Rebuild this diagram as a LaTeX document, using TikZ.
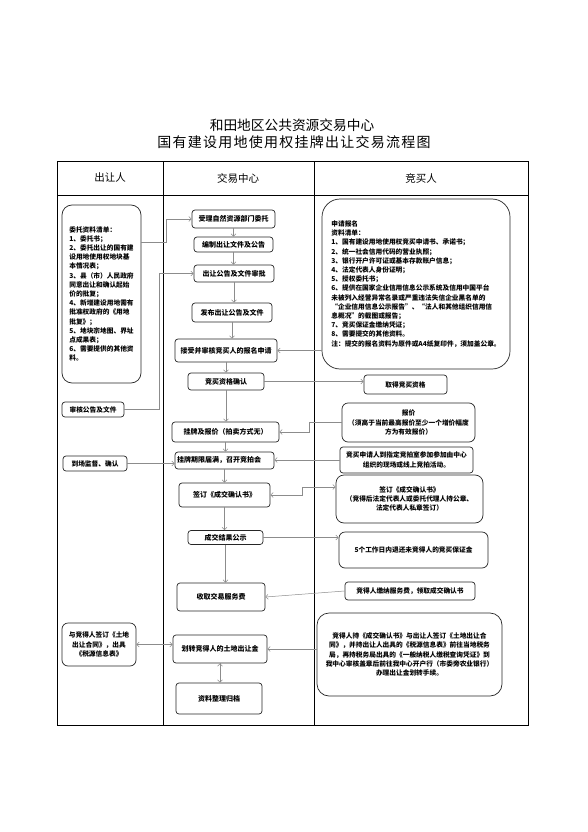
\documentclass[tikz,border=0pt]{standalone}
\usepackage{fontspec}
\setmainfont{Noto Sans CJK SC}
\newfontfamily\titlefont{Noto Sans CJK SC}
\newfontfamily\titlewide[LetterSpace=9]{Noto Sans CJK SC}
\usetikzlibrary{calc,positioning,arrows.meta,shapes}

\begin{document}
\begin{tikzpicture}[x=1pt,y=-1pt,
		box/.style={draw=black!85,line width=0.7pt,rounded corners=3pt,inner sep=1pt,align=center,font=\bfseries\fontsize{7}{9.2}\selectfont},
		sz/.style 2 args={minimum width=#1pt,minimum height=#2pt},
		small/.style={font=\bfseries\fontsize{6.7}{9.2}\selectfont},
		lane/.style={draw=black,line width=0.9pt},
		head/.style={font=\fontsize{10.5}{12}\selectfont},
		link/.style={draw=black!45,line width=0.5pt,-{Straight Barb[length=2.5pt,width=5pt]}},
		both/.style={link,{Straight Barb[length=2.5pt,width=5pt]}-{Straight Barb[length=2.5pt,width=5pt]}}]
		\fill[white] (0,0) rectangle (587,832);
		\useasboundingbox (0,0) rectangle (587,832);
		\node[font=\titlefont\fontsize{13.7}{16}\selectfont] (t1) at (292,125) {和田地区公共资源交易中心};
		\node[font=\titlewide\fontsize{14}{16}\selectfont] (t2) at (294,142) {国有建设用地使用权挂牌出让交易流程图};
		\draw[lane] (57,161) rectangle (528,725);
		\draw[lane] (57,195) -- (528,195);
		\draw[lane] (163,161) -- (163,725);
		\draw[lane] (314,161) -- (314,725);
		\node[head] (hl) at (110,178) {出让人};
		\node[head] (hc) at (238,178) {交易中心};
		\node[head] (hr) at (421,178) {竞买人};
		
		\node[box,small,sz={79}{178},rounded corners=10pt,align=left] (wt) at (101.5,294)
		{委托资料清单：\\1、委托书；\\2、委托出让的国有建\\设用地使用权地块基\\本情况表；\\3、县（市）人民政府\\同意出让和确认起始\\价的批复；\\4、新增建设用地需有\\批准权政府的《用地\\批复》；\\5、地块宗地图、界址\\点成果表；\\6、需要提供的其他资\\料。};
		\node[box,small,sz={62}{15}] (sh) at (93,409.5) {审核公告及文件};
		\node[box,small,sz={64}{15}] (dc) at (95,463.5) {到场监督、确认};
		\node[box,small,sz={74}{43},rounded corners=6pt] (ht) at (99,644.5) {与竞得人签订《土地\\出让合同》，出具\\《税源信息表》};
		
		\node[box,sz={83}{18}] (sl) at (233.5,219) {受理自然资源部门委托};
		\node[box,sz={79}{15}] (bz) at (233.5,244.5) {编制出让文件及公告};
		\node[box,sz={80}{17}] (sp) at (234,273.5) {出让公告及文件审批};
		\node[box,sz={80}{19}] (fb) at (232,312.5) {发布出让公告及文件};
		\node[box,sz={102}{23}] (js) at (226,350.5) {接受并审核竞买人的报名申请};
		\node[box,sz={76}{17}] (zg) at (226,381.5) {竞买资格确认};
		\node[box,sz={107}{20}] (gp) at (225.5,432) {挂牌及报价（拍卖方式无）};
		\node[box,sz={99}{17},text width=95pt,inner xsep=2pt,align=left] (gq) at (224.5,460.5) {挂牌期限届满，召开竞拍会};
		\node[box,sz={91}{24}] (qd) at (224.5,495) {签订《成交确认书》};
		\node[box,sz={75}{14}] (gs) at (225.5,537.5) {成交结果公示};
		\node[box,sz={88}{28}] (sq) at (221,597) {收取交易服务费};
		\node[box,sz={94}{28}] (hz) at (220,649) {划转竞得人的土地出让金};
		\node[box,sz={86}{31}] (gd) at (219,698.5) {资料整理归档};
		
		\node[box,small,sz={188}{170},rounded corners=18pt,align=left] (bm) at (416,284)
		{申请报名\\资料清单：\\1、国有建设用地使用权竞买申请书、承诺书；\\2、统一社会信用代码的营业执照；\\3、银行开户许可证或基本存款账户信息；\\4、法定代表人身份证明；\\5、授权委托书；\\6、提供在国家企业信用信息公示系统及信用中国平台\\未被列入经营异常名录或严重违法失信企业黑名单的\\“企业信用信息公示报告”、“法人和其他组织信用信\\息概况”的截图或报告；\\7、竞买保证金缴纳凭证；\\8、需要提交的其他资料。\\注：提交的报名资料为原件或A4纸复印件，须加盖公章。};
		\node[box,small,sz={83}{19}] (qz) at (405.5,384.5) {取得竞买资格};
		\node[box,small,sz={133}{39},rounded corners=6pt] (bj) at (408.5,422.5) {报价\\（须高于当前最高报价至少一个增价幅度\\方为有效报价）};
		\node[box,small,sz={133}{26}] (jp) at (406.5,460) {竞买申请人到指定竞拍室参加参加由中心\\组织的现场或线上竞拍活动。};
		\node[box,small,sz={147}{48},rounded corners=8pt] (rq) at (409.5,499) {签订《成交确认书》\\（竞得后法定代表人或委托代理人持公章、\\法定代表人私章签订）};
		\node[box,small,sz={149}{36},rounded corners=6pt] (tb) at (413.5,550) {5个工作日内退还未竞得人的竞买保证金};
		\node[box,small,sz={130}{18}] (jn) at (410,591) {竞得人缴纳服务费，领取成交确认书};
		\node[box,small,sz={185}{83},rounded corners=12pt] (jd) at (409.5,654.5) {竞得人持《成交确认书》与出让人签订《土地出让合\\同》，并持出让人出具的《税源信息表》前往当地税务\\局，再持税务局出具的《一般纳税人缴税查询凭证》到\\我中心审核盖章后前往我中心开户行（市委旁农业银行）\\办理出让金划转手续。};
		
		\path[link]
		(sl.south) edge (sl.south |- bz.north)
		(bz.south) edge (bz.south |- sp.north)
		(sp.south) edge (sp.south |- fb.north)
		(fb.south) edge (fb.south |- js.north)
		(js.south) edge (js.south |- zg.north)
		(zg.south) edge (zg.south |- gp.north)
		(gp.south) edge (gp.south |- gq.north)
		(gq.south) edge (gq.south |- qd.north)
		(qd.south) edge (qd.south |- gs.north)
		(gs.south) edge (gs.south |- sq.north)
		(hz.south) edge (hz.south |- gd.north);
		\draw[link] ([yshift=52pt]wt.east) -- ++(25,0) |- (sl.west);
		\draw[link] (sh.east) -- ++(35,0) |- (sp.west);
		\draw[link] (bm.west |- js.east) -- (js.east);
		\draw[link] (zg.east) -- (zg.east -| qz.west);
		\draw[link] (bj.west) -- ++(-32,0) |- (gp.east);
		\draw[link] (jp.west) -- (jp.west -| gq.east);
		\draw[link] (dc.east) -- (dc.east -| gq.west);
		\draw[both] (qd.east) -- ++(32,0) |- ([yshift=12pt]rq.west);
		\draw[link] (gs.east) -- (gs.east -| tb.west);
		\draw[link] (jn.west) -- (sq.east);
		\draw[link] (jd.west |- hz.east) -- (hz.east);
		\draw[both] (ht.east) -- (ht.east -| hz.west);
	\end{tikzpicture}
\end{document}
